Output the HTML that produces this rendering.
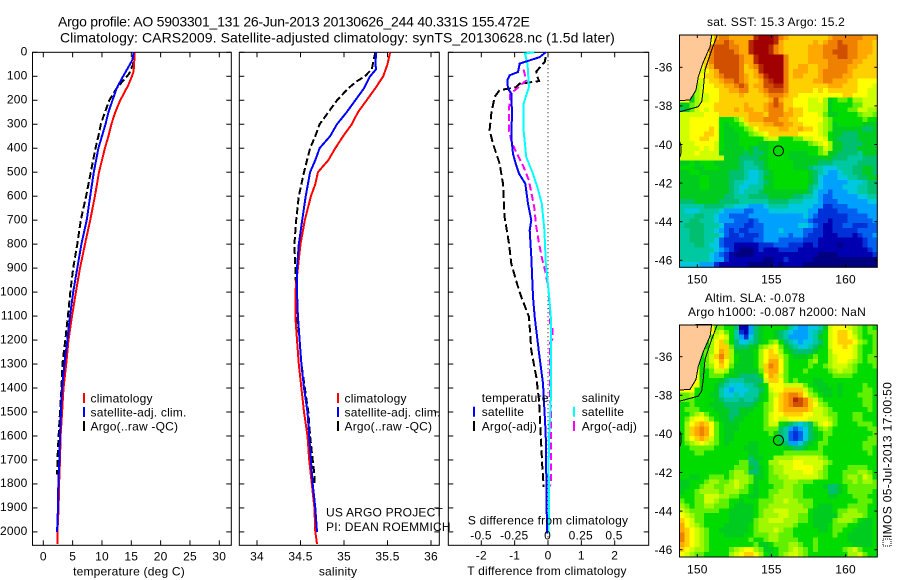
<!DOCTYPE html>
<html>
<head>
<meta charset="utf-8">
<title>Argo profile</title>
<style>
html,body{margin:0;padding:0;background:#fff;}
svg{display:block;}
text{font-family:"Liberation Sans",sans-serif;fill:#000;letter-spacing:.2px;}
</style>
</head>
<body>
<svg id="chart" xmlns="http://www.w3.org/2000/svg" width="900" height="580" viewBox="0 0 900 580"></svg>
<script>
// ---------- profile data ----------
const depthTicks = [0,100,200,300,400,500,600,700,800,900,1000,1100,1200,1300,1400,1500,1600,1700,1800,1900,2000];
const tempTicks = [0,5,10,15,20,25,30];
const salTicks = [34,34.5,35,35.5,36];
const tDiffTicks = [-2,-1,0,1,2];
const sDiffLabels = [-0.5,-0.25,0,0.25,0.5];

const tempClimDepth = [0,80,100,136,178,200,254,300,350,400,500,600,700,800,900,1000,1100,1200,1300,1400,1500,1600,1700,1800,1900,2000,2050];
const tempClimValue = [15.6,15.4,15.1,14.5,13.6,13.1,12.2,11.6,11.1,10.5,9.5,8.8,8.0,7.1,6.25,5.55,4.9,4.3,3.9,3.45,3.2,2.95,2.85,2.7,2.6,2.4,2.4];
const tempSatDepth = [0,30,45,100,150,200,250,300,400,500,600,700,800,900,1000,1100,1200,1300,1400,1500,1600,1700,1800,1900,1960,2000];
const tempSatValue = [15.4,15.2,14.9,13.6,12.5,11.8,11.1,10.6,9.4,8.6,8.0,7.4,6.5,5.8,5.1,4.55,4.1,3.6,3.2,3.0,2.85,2.75,2.55,2.5,2.4,2.35];
const tempArgoDepth = [0,50,90,130,150,200,250,300,350,400,500,600,700,800,900,1000,1100,1200,1300,1400,1500,1600,1700,1760];
const tempArgoValue = [15.5,15.3,14.6,13.2,12.5,11.25,10.5,9.8,9.4,8.9,8.1,7.3,6.4,5.8,5.1,4.6,4.2,3.75,3.25,3.1,2.85,2.6,2.4,2.35];

const salClimDepth = [0,50,100,150,200,250,300,350,400,450,500,550,600,700,800,900,1000,1100,1200,1300,1400,1500,1600,1700,1800,1900,2000,2050];
const salClimValue = [35.53,35.5,35.45,35.36,35.26,35.16,35.09,34.99,34.9,34.82,34.7,34.67,34.62,34.55,34.5,34.47,34.44,34.44,34.46,34.48,34.51,34.54,34.58,34.6,34.63,34.66,34.67,34.69];
const salSatDepth = [0,50,70,100,150,200,250,300,350,400,450,500,600,700,800,900,1000,1100,1200,1300,1400,1500,1600,1700,1800,1900,2000];
const salSatValue = [35.37,35.36,35.37,35.3,35.23,35.13,35.03,34.92,34.84,34.72,34.67,34.61,34.56,34.52,34.48,34.46,34.46,34.47,34.49,34.51,34.54,34.58,34.6,34.62,34.64,34.67,34.69];
const salArgoDepth = [0,70,100,120,150,200,250,300,350,400,500,600,700,800,900,1000,1100,1200,1300,1400,1500,1600,1700,1760,1800];
const salArgoValue = [35.36,35.32,35.24,35.15,35.05,34.92,34.82,34.72,34.67,34.61,34.54,34.48,34.45,34.43,34.44,34.45,34.46,34.49,34.51,34.55,34.59,34.61,34.64,34.66,34.66];

const dTSatDepth = [0,20,47,82,96,117,152,172,256,353,423,464,506,548,631,700,742,853,1020,1104,1243,1381,1590,1770,2007];
const dTSatValue = [-0.07,-0.25,-0.85,-0.9,-1.15,-1.22,-1.2,-1.1,-1.08,-1.1,-1.05,-0.97,-0.87,-0.68,-0.6,-0.5,-0.55,-0.5,-0.45,-0.4,-0.28,-0.15,-0.07,-0.05,-0.03];
const dTArgoDepth = [20,40,80,100,120,131,145,158,186,256,325,381,464,548,687,798,881,965,1020,1104,1243,1354,1451,1590,1729,1812];
const dTArgoValue = [-0.07,-0.1,-0.35,-0.32,-0.27,-0.85,-0.95,-1.45,-1.6,-1.7,-1.75,-1.65,-1.45,-1.35,-1.3,-1.17,-1.1,-0.93,-0.8,-0.57,-0.5,-0.35,-0.27,-0.22,-0.17,-0.13];
const dSSatDepth = [0,5,47,145,214,325,436,506,562,631,742,881,1020,1104,1243,1451,1590,1729,1868,2007];
const dSSatValue = [-0.1,-0.17,-0.15,-0.14,-0.18,-0.18,-0.16,-0.11,-0.076,-0.043,-0.023,-0.013,0.013,0.025,0.025,0.025,0.013,0.008,0.013,0.008];
const dSArgoDepth = [72,117,156,172,242,325,374,423,478,534,645,728,798,867,923,992,1100,1130,1140,1194,1210,1400,1460,1480,1790,1810];
const dSArgoValue = [-0.18,-0.16,-0.24,-0.28,-0.29,-0.29,-0.27,-0.23,-0.18,-0.14,-0.1,-0.084,-0.063,-0.038,-0.013,0.008,0.02,0.02,0.038,0.038,0.02,0.02,0.02,0.028,0.028,0.018];

// ---------- map data (one letter per cell, a=lowest level, t=highest) ----------
const mapLonTicks = [150,155,160];
const mapLatTicks = [-36,-38,-40,-42,-44,-46];
const argoLon = [155.472];
const argoLat = [-40.331];
const coastLon = [150.97,150.86,150.38,150.07,149.91,149.51,148.8];
const coastLat = [-34.33,-34.93,-35.78,-36.49,-37.18,-37.69,-37.73];
const shelfLon = [151.35,150.97,150.52,150.4,150.3,150.07,148.83];
const shelfLat = [-34.33,-35.1,-36.14,-37.18,-37.78,-38.04,-38.3];
const islandLon = [148.83,148.9,148.9,148.83];
const islandLat = [-39.87,-40.1,-40.45,-40.65];

const sstRows = [
"nnnnnnnpqq pppppsttts qpoooooooo pqqqqqqppp",
"nnnnnnnqqr qpppstttts poooooopop qqrqqqpppo",
"nnnnnnqrrr qqppstttsq pooooopppq qqrrqqpppo",
"nnnnnnqrrr rqppstttsq pooooopppq qrrrqqpppo",
"nnnnnoqrrr rrqppstttt tqoooopppq qqrrqqppoo",
"nnnnooqrrr rrqppstttt tqoooopppp qqqqqppooo",
"nnnnnoprrr rrqopqsttt tqooppoopp qqqqppoooo",
"nnnnmnoprr rrqoopsttt tqopppoopq qqqqpooooo",
"nnnmnoopqr rrqpopqstt tqoppooopq qqqppooooo",
"nnnmmnoopq qrqpooprst tqoooooppq qpppoonnnn",
"nnnlmnnoop pqrqopprrs sqoooooooo pppooonnnm",
"nnklmnnnoo ppqqoopqrr rqooooonon oooooonnmm",
"nnilmmnnoo oopoooopqq qpoonnnnnn nnnoonnnmm",
"nnilmmnnoo oooooooopr poonnnmmnl ijkkjllmmm",
"iiklnnnooo ooopooopqr qoonnnmmml ijjjjkkmmm",
"hikmnmnooo opoppoopqq qopoonmmml ijjjkkmmll",
"mmmmmnnnoo oooopppoqq qppoonnnmk iijjjjkllk",
"mmnnnnnnjj jkmopppqqq ppoonnnnnl kjjjjjjkjj",
"mmnnnnnnji jjkmoooppq qppoonnnml kijjjjjiii",
"mmnnnnonji ijjklnoooo ppoopoonml kiiiiiihhi",
"mmnnnoonji iijjklmnoo oooonnnnml jiihhhiiii",
"mmnnoonnji iijjjjjlmm jjjkkmmnnm jihhhhiiii",
"mmmnnnnmji iijjjjiijj jjjjjjklmn liihhhhiii",
"mmmmnmnmji iiijihiijj jjjjjjjjkm liihhhiiii",
"mmmnmmmmii iiihihhijj jjiiiijjkl iihhhhgiii",
"mmmmmmmmmi iihhhhiijj jjiiiiiiii ihhhggghhh",
"iijijjjiii iihgghhijj jjjiiiiihh hggggghhhh",
"jjjiijjjii iihggghijj jjjiiihggf ffggghhiih",
"iijjiiiiii hhhgffghij jjjjjjihgf eefgghhiih",
"iiiijjiiii hhhgffgiij jjjjjjihfe eeffgghhii",
"iiiijjiiii hggfffghij jjjjjjihfe eeeefffghh",
"iiiijjiiii hgffgggiij jjjjjjhgfe eeefffgghh",
"iiiiiiiiii hgfggghiii iiiiiihfee deeeffgghh",
"iiiiiiiiih hggghhhhii iiihhggfed deeeeeffgg",
"hhhiiiiihh hhgggggghh hhgggfffed ddeeeeeeff",
"ggggghhhhg gfffeeefgg ggfffffeec cdddeeeeee",
"gfffggggfe eeeddeeeff ffffffeecc ccddddeeee",
"ggghhggfee ddddeeeeee eeeeefedcc ccccddddee",
"gghhgggfee edddcdeeee eeeeeedccc bcccddddde",
"ghhhhgggfd dddccddeee eeeeffedcb bccddcccdd",
"gghhhggfed cdccdddeee feeeeddccb bcccccdddd",
"gghhhgggfd ccdcccdeee eedeedcccb bbcccbcdde",
"gghhhggfdc cccccddeee dddddcccbb bbbbbbbcdd",
"ggghhgffdc cbbbbbcccd ddcccbbcbb bbabbbbcdd",
"gggggggfed cbaaabcbbb ccccbbbbbb bbbbbbbbcd",
"ggggggfedc baaaabbbbb bbbbbbbbaa aabbbbbbbc",
"ggggggfeec bbbbbbbaab bcbbbbbaaa aaaaaaaaaa",
"ffffeeecbb bbbbaaaaab abbbbaaaaa aaaaaaaaaa"
];
const slaRows = [
"nnnnnnnkkj jhbbehijjj jigfeeffgi mnnnmlkjkj",
"nnnnnnnlmk jgcbehijji hgfeeefghj mnoonlkjkk",
"nnnnnnkmnm jgecfhijji hgeeeefgij mnoonmkjjk",
"nnnnnjlnol jhffghijkl jhgfeffghj mnooonlkjk",
"nnnnnjlnoo khhhiiklmn kihgffghij mnnonmkjjk",
"nnnnjklnpo liiiijlnon ljihhhhijj lnnnnmkjjk",
"nnnnjkmoqo ljiiijlnoo mkjiiijkjj lmnnnmkjkk",
"nnnnjkmnpn ljiiijlnpp nkjjjjkljj lmnnmlkjkk",
"nnnnjklnon kiiiijloqp nkjjjjkjjk lmmmlkjjjk",
"nnnnjjkmml jiiiiikopp nkjjjkjjjj klmllkjjjj",
"nnnnijkkkj iihhhhjnpo mkjjjjjjjj jkkkkjjjjj",
"nnnnjjjjih ggghhhhmoo nkjkjjjiij jjjjjjjjjj",
"nnnnjjjihg fffgghijnn nmmmmkjiii jjijjjjkjj",
"nnnjjjjigf efffgghjmn noooomkjii ijijjjjkkj",
"kkljjjiigf fgfgggijlm opqqpnlkji ijijjjkkkj",
"kkkjjjjihg gghgghijln opqsrqomkj jjjjjjjkkj",
"jjkjjjiiih hhhhhijkln opqrrqonlk jjjjjjjkkj",
"jkkkjjjiii hhiiijjkln opppppomml kjjjjjjjkj",
"jjklmkjjii hhiijjjkmn noooonnmml kkjjjkkjjj",
"jkmnnmkjii hiijjjjkmn mmnnnnmmmm lkjjjkkjjj",
"jlnoponkji iijjjjjkmm jihgfghkmn mkjjjjkkkj",
"jlopqpnkji iijjjjjkkk hgedefhjkl kjjjjjjjkk",
"jlopqpnkji ijjjjjjjkj hgdcdfhijk kjjjjjjjjk",
"jlnopomkji ijjjjjjjjj hgdcdfhijk jjjjjjjjkk",
"jklmnmlkji jjjjiijjjj iheefhijkk jjjjjjjkkk",
"jjkkkkkjjj jjjiiijjjj jiihhijjkj jjjjjjjkkj",
"jjjkkjjjjj jjjjiijjjj jkkkkkkkkj jjjjjjjjkj",
"jjjjjjjjjj jjjjhiijjl lllmmmmmlk jjjjjjjjjj",
"jjjjjjjjjj jjkkhhjjll mmmnnmmmml kjjjjjjjjj",
"jjjjjjjjjj jkkkihijkl lmmnnnnmmk jjjjkkkkjj",
"jjjjjjjjjj kllkhhijkl lmmmmnnmlk jjjkkkllkj",
"jjiijjkkkj klllkiijkk llmmmmmmlk jjjkllkmlj",
"iijjjkllkk lmllkijjkk klllkkkjjj jjjkklkllk",
"iijjkllkkl lmlkjijjjk kllkkjjjji hhijkkkkkk",
"ijjkllllkl llkkjijjkk lllkkjjjjj hhijkkkkkj",
"jjjkkmmmll kkjjiijjkl lllkkjjjjj iijjjkkkjj",
"kjjkkmmlkk jjijjjkkkl lmllkkkjjj jjjjjjkkkj",
"lkjkkllkkk jiiiijkkll lllllkkjii ijjjkkkkjj",
"mlkkkkkkjj iiiiijkllm mmlllljiii ijkkllkkjj",
"nmlkkjjjjj iiiiijklll mmllkkjiii iikllllkjj",
"onmkkjjjjj iiiiikllmm mlllkkjiii iklllkjiij",
"pnmlkjjjji iiiijkllll lllkjjjiii jkkkjjiiij",
"ponmlkjjii iiiijklllm lkkjjjjjii jkkjjiiiij",
"qonmlkjjji iiijjkkkll kkkjjjjjjj jkjjiiiiij",
"qonmlkjjjj jjjjkjjkll kkkkjjjkjj jjjjiiiiij",
"ponmlkjjjj jjjjjkiijk kkllkjjkjj jjjjjiiiij",
"onmllkjjjj klmnnlkiij kklmlkjkjj jjjklmkjjj",
"nmlkkjjjjj lmnoonljij klmmlkjjjj jjjjllmkjj"
];
const mapLevels = "abcdefghijklmnopqrst";
const mapPalette = ["#000080","#0000b0","#0030d8","#0060f0","#00a0ff","#00c8e0","#00c8a0","#00c070","#00cc20","#00dc00","#60f000","#a0f800","#d0ff00","#ffff00","#ffd000","#ffa800","#f08000","#d05000","#b82800","#a00000"];

// ---------- helpers ----------
const svg = document.getElementById('chart');
const NS = 'http://www.w3.org/2000/svg';
function mk(tag, attrs, parent){
  const e = document.createElementNS(NS, tag);
  for (const k in attrs) e.setAttribute(k, attrs[k]);
  (parent || svg).appendChild(e);
  return e;
}
function txt(x, y, s, anchor, size, parent){
  const e = mk('text', {x:x, y:y+4.3, 'text-anchor':anchor||'start', 'font-size':size||12}, parent);
  e.textContent = s;
  return e;
}

const yTop = 52.3, yScale = 0.2398;
function depthY(d){ return yTop + d * yScale; }
function linX(v0, px0, v1, px1){ return v => px0 + (v - v0) * (px1 - px0) / (v1 - v0); }

const panelTop = 52.3, panelBottom = 545.3;
function drawFrame(g, x0, x1, xfn, ticks, withLeftLabels){
  mk('rect', {x:x0, y:panelTop, width:x1-x0, height:panelBottom-panelTop, fill:'#fff', stroke:'#000', 'stroke-width':1}, g);
  depthTicks.forEach(d => {
    const y = depthY(d);
    mk('line', {x1:x0, x2:x0+5, y1:y, y2:y, stroke:'#000', 'stroke-width':1}, g);
    mk('line', {x1:x1, x2:x1-5, y1:y, y2:y, stroke:'#000', 'stroke-width':1}, g);
    if (withLeftLabels) {
      const t = txt(x0-5, y-1, String(d), 'end', 12, g);
      
      
    }
  });
  ticks.forEach(v => {
    const x = xfn(v);
    mk('line', {x1:x, x2:x, y1:panelTop, y2:panelTop+5, stroke:'#000', 'stroke-width':1}, g);
    mk('line', {x1:x, x2:x, y1:panelBottom, y2:panelBottom-5, stroke:'#000', 'stroke-width':1}, g);
  });
}
function drawSeries(g, depths, values, xfn, color, width, dash, name){
  const pts = depths.map((d,i) => xfn(values[i]).toFixed(1) + ',' + depthY(d).toFixed(1)).join(' ');
  const attrs = {points:pts, fill:'none', stroke:color, 'stroke-width':width, 'shape-rendering':'crispEdges'};
  if (dash) attrs['stroke-dasharray'] = dash;
  const p = mk('polyline', attrs, g);
  
  
  return p;
}
function legendEntry(g, sx, tx, y, color, label, name){
  const l = mk('line', {x1:sx, x2:sx, y1:y-5, y2:y+5, stroke:color, 'stroke-width':2}, g);
  
  
  const t = txt(tx, y, label, 'start', 12, g);
  
  
}

// ---------- titles ----------
const title1 = txt(58, 22, 'Argo profile: AO 5903301_131 26-Jun-2013 20130626_244 40.331S 155.472E', 'start', 14);


title1.setAttribute('textLength', '472');
const title2 = txt(60, 38, 'Climatology: CARS2009. Satellite-adjusted climatology: synTS_20130628.nc (1.5d later)', 'start', 14);


title2.setAttribute('textLength', '555');

// ---------- temperature panel ----------
const tempX = linX(0, 43.3, 30, 219.3);
const gT = mk('g', {});


drawFrame(gT, 32.5, 231.3, tempX, tempTicks, true);
drawSeries(gT, tempArgoDepth, tempArgoValue, tempX, '#000', 2, '7 3', 'temperature-argo-line');
drawSeries(gT, tempClimDepth, tempClimValue, tempX, '#f00', 2, null, 'temperature-climatology-line');
drawSeries(gT, tempSatDepth, tempSatValue, tempX, '#00f', 2, null, 'temperature-satellite-line');
tempTicks.forEach(v => {
  const t = txt(tempX(v), 556, String(v), 'middle', 12, gT);
  
  
});
const tLabel = txt(129, 571, 'temperature (deg C)', 'middle', 12, gT);


legendEntry(gT, 84, 90.5, 398, '#f00', 'climatology', 'temperature-legend-climatology');
legendEntry(gT, 84, 90.5, 412, '#00f', 'satellite-adj. clim.', 'temperature-legend-satellite');
legendEntry(gT, 84, 90.5, 426, '#000', 'Argo(..raw -QC)', 'temperature-legend-argo');

// ---------- salinity panel ----------
const salX = linX(34, 257, 36, 431);
const gS = mk('g', {});


drawFrame(gS, 239.3, 439.3, salX, salTicks, false);
drawSeries(gS, salArgoDepth, salArgoValue, salX, '#000', 2, '7 3', 'salinity-argo-line');
drawSeries(gS, salClimDepth, salClimValue, salX, '#f00', 2, null, 'salinity-climatology-line');
drawSeries(gS, salSatDepth, salSatValue, salX, '#00f', 2, null, 'salinity-satellite-line');
salTicks.forEach(v => {
  const t = txt(salX(v), 556, String(v), 'middle', 12, gS);
  
  
});
const sLabel = txt(338, 571, 'salinity', 'middle', 12, gS);


legendEntry(gS, 338, 344.5, 398, '#f00', 'climatology', 'salinity-legend-climatology');
legendEntry(gS, 338, 344.5, 412, '#00f', 'satellite-adj. clim.', 'salinity-legend-satellite');
legendEntry(gS, 338, 344.5, 426, '#000', 'Argo(..raw -QC)', 'salinity-legend-argo');

// ---------- difference panel ----------
const dTX = linX(-2, 481.3, 2, 614.7);
const dSX = linX(-0.5, 481, 0.5, 614);
const gD = mk('g', {});


drawFrame(gD, 448.3, 648.7, dTX, tDiffTicks, false);
const zeroLine = mk('line', {x1:dTX(0), x2:dTX(0), y1:panelTop, y2:panelBottom, stroke:'#000', 'stroke-width':1, 'stroke-dasharray':'1 3'}, gD);


drawSeries(gD, dTArgoDepth, dTArgoValue, dTX, '#000', 2, '8 3.5', 'tdiff-argo-line');
drawSeries(gD, dSArgoDepth, dSArgoValue, dSX, '#f0f', 2, '7 3.5', 'sdiff-argo-line');
drawSeries(gD, dSSatDepth, dSSatValue, dSX, '#0ff', 2, null, 'sdiff-satellite-line');
drawSeries(gD, dTSatDepth, dTSatValue, dTX, '#00f', 2, null, 'tdiff-satellite-line');
tDiffTicks.forEach(v => {
  const t = txt(dTX(v), 555, String(v), 'middle', 12, gD);
  
  
});
sDiffLabels.forEach(v => {
  const t = txt(dSX(v), 535, String(v), 'middle', 12, gD);
  
  
});
const sdTitle = txt(548, 520, 'S difference from climatology', 'middle', 12, gD);


const tdTitle = txt(547, 570.7, 'T difference from climatology', 'middle', 12, gD);


const lt = txt(481.7, 397.7, 'temperature', 'start', 12, gD);


const ls = txt(581.7, 397.7, 'salinity', 'start', 12, gD);


legendEntry(gD, 474, 481.7, 411.7, '#00f', 'satellite', 'tdiff-legend-satellite');
legendEntry(gD, 474, 481.7, 426, '#000', 'Argo(-adj)', 'tdiff-legend-argo');
legendEntry(gD, 574, 581.7, 411.7, '#0ff', 'satellite', 'sdiff-legend-satellite');
legendEntry(gD, 574, 581.7, 426, '#f0f', 'Argo(-adj)', 'sdiff-legend-argo');

const pi1 = txt(326, 512, 'US ARGO PROJECT', 'start', 12);


const pi2 = txt(326, 526.5, 'PI: DEAN ROEMMICH', 'start', 12);



// ---------- maps ----------
const mapLeft = 679.5, mapRight = 877.3;
const lonX = linX(150, 697.3, 160, 845.6);
function drawMap(name, rows, top, bottom, lat36Y){
  const latY = lat => lat36Y + (-36 - lat) * 19.3;
  const g = mk('g', {});
  
  
  const cells = mk('g', {'shape-rendering':'crispEdges'}, g);
  const lat0 = -36 + (lat36Y - top) / 19.3;
  const cols = 40;
  rows.forEach((row, r) => {
    const clean = row.replace(/ /g, '');
    for (let c = 0; c < cols; c++) {
      const level = mapLevels.indexOf(clean[c] || clean[clean.length-1]);
      const lonA = 148.8 + c / 3, lonB = 148.8 + (c + 1) / 3;
      const latA = lat0 - r * 0.25, latB = lat0 - (r + 1) * 0.25;
      const xa = Math.max(lonX(lonA), mapLeft), xb = Math.min(lonX(lonB), mapRight);
      if (xb <= xa) continue;
      const cell = mk('rect', {x:xa, y:latY(latA), width:xb-xa+0.5, height:Math.min(latY(latB), bottom)-latY(latA)+0.5, fill:mapPalette[level]}, cells);
      
      
    }
  });
  // land
  const landPts = [[mapLeft, top]].concat(coastLon.map((lo,i) => [lonX(lo), latY(coastLat[i])]));
  const land = mk('polygon', {points:landPts.map(p => p[0].toFixed(1)+','+p[1].toFixed(1)).join(' '), fill:'#ffc896', stroke:'#000', 'stroke-width':1, 'shape-rendering':'crispEdges'}, g);
  
  
  const shelf = mk('polyline', {points:shelfLon.map((lo,i) => lonX(lo).toFixed(1)+','+latY(shelfLat[i]).toFixed(1)).join(' '), fill:'none', stroke:'#000', 'stroke-width':1, 'shape-rendering':'crispEdges'}, g);
  
  
  const isl = mk('polyline', {points:islandLon.map((lo,i) => lonX(lo).toFixed(1)+','+latY(islandLat[i]).toFixed(1)).join(' '), fill:'none', stroke:'#000', 'stroke-width':1}, g);
  
  
  // frame
  const frame = mk('rect', {x:mapLeft, y:top, width:mapRight-mapLeft, height:bottom-top, fill:'none', stroke:'#000', 'stroke-width':1}, g);
  
  
  mapLonTicks.forEach(lo => {
    const x = lonX(lo);
    mk('line', {x1:x, x2:x, y1:top, y2:top+3, stroke:'#000', 'stroke-width':1}, g);
    mk('line', {x1:x, x2:x, y1:bottom, y2:bottom-3, stroke:'#000', 'stroke-width':1}, g);
    const t = txt(x, bottom+12, String(lo), 'middle', 12, g);
    
    
  });
  mapLatTicks.forEach(la => {
    const y = latY(la);
    mk('line', {x1:mapLeft, x2:mapLeft+3, y1:y, y2:y, stroke:'#000', 'stroke-width':1}, g);
    mk('line', {x1:mapRight, x2:mapRight-3, y1:y, y2:y, stroke:'#000', 'stroke-width':1}, g);
    const t = txt(mapLeft-7, y, String(la), 'end', 12, g);
    
    
  });
  const mark = mk('circle', {cx:lonX(argoLon[0]), cy:latY(argoLat[0]), r:5, fill:'none', stroke:'#000', 'stroke-width':1}, g);
  
  
}
drawMap('sst', sstRows, 35, 267.3, 67.3);
drawMap('sla', slaRows, 325, 557, 356.7);

const mt1 = txt(776, 21.7, 'sat. SST: 15.3 Argo: 15.2', 'middle', 12);


mt1.setAttribute('textLength', '138');
const mt2 = txt(755, 297.5, 'Altim. SLA: -0.078', 'middle', 12);


const mt3 = txt(777, 311.5, 'Argo h1000: -0.087 h2000: NaN', 'middle', 12);


mt3.setAttribute('textLength', '178');

const stamp = mk('text', {x:0, y:4.3, 'text-anchor':'start', 'font-size':12, transform:'translate(887 538) rotate(-90)'});
stamp.textContent = 'IMOS 05-Jul-2013 17:00:50';


stamp.setAttribute('textLength', '156');
const logo = mk('rect', {x:883, y:539, width:8, height:7, fill:'#fff', stroke:'#000', 'stroke-width':1, 'stroke-dasharray':'1 1'});


</script>
</body>
</html>
